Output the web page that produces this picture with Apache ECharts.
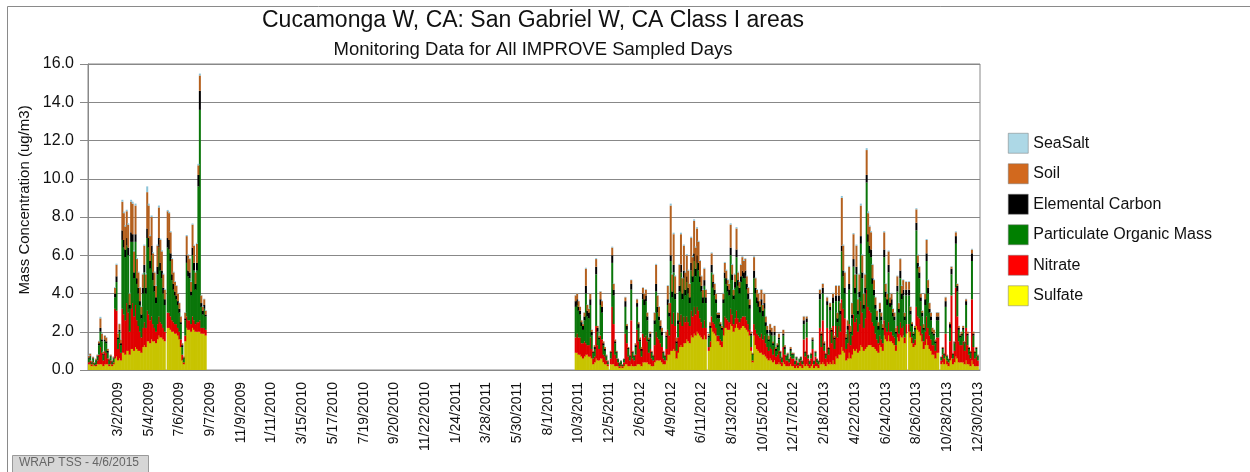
<!DOCTYPE html>
<html>
<head>
<meta charset="utf-8">
<script src="https://cdn.jsdelivr.net/npm/echarts@6/dist/echarts.min.js"></script>
<style>
  html, body { margin: 0; padding: 0; background: #fff; }
  #chart { width: 1250px; height: 472px; }
</style>
</head>
<body>
<div id="chart"></div>
<script>
// IMPROVE samples every 3rd day starting 1/1/2009
var firstDay = new Date(2009, 0, 1);
var nSamples = 610;
var start1 = 0;     // 1/1/2009
var start2 = 333;   // 9/27/2011

var tickLabels = ['3/2/2009', '5/4/2009', '7/6/2009', '9/7/2009', '11/9/2009', '1/11/2010',
    '3/15/2010', '5/17/2010', '7/19/2010', '9/20/2010', '11/22/2010', '1/24/2011', '3/28/2011',
    '5/30/2011', '8/1/2011', '10/3/2011', '12/5/2011', '2/6/2012', '4/9/2012', '6/11/2012',
    '8/13/2012', '10/15/2012', '12/17/2012', '2/18/2013', '4/22/2013', '6/24/2013', '8/26/2013',
    '10/28/2013', '12/30/2013'];

// ---- 2009 (1/1 - 8/27) ----
var sulfate1 = [
    0.3,0.3,0.2,0.3,0.2,0.2,0.3,0.3,0.3,0.3,
    0.2,0.3,0.3,0.3,0.2,0.3,0.2,0.3,0.6,0.7,
    0.5,0.6,0.5,0.9,0.9,0.8,1.0,1.0,0.8,1.1,
    1.1,1.0,1.2,1.1,1.0,1.0,0.9,1.2,1.3,1.2,
    1.5,1.5,1.4,1.6,1.5,1.5,1.4,1.6,1.8,1.7,
    1.7,1.6,1.5,null,2.2,2.2,2.1,2.0,2.0,1.9,
    1.9,1.8,1.6,1.2,0.5,0.3,1.5,2.2,2.1,2.1,
    2.0,2.2,2.1,2.0,2.0,2.0,2.0,1.9,1.9,1.9,
    1.8];
var nitrate1 = [
    0.1,0.2,0.1,0.1,0.05,0.1,0.2,0.5,0.9,0.6,
    0.3,0.7,0.6,0.3,0.1,0.2,0.1,0.1,2.6,2.4,
    0.6,0.8,0.4,2.3,2.0,1.8,2.5,2.0,1.2,2.1,
    2.4,1.8,2.2,1.5,1.3,1.0,0.8,1.0,1.2,1.0,
    1.6,1.4,1.2,1.2,0.9,0.7,0.6,0.8,1.0,0.8,
    0.7,0.6,0.5,null,0.8,0.8,0.7,0.6,0.5,0.5,
    0.5,0.4,0.4,0.4,0.3,0.1,0.3,0.6,0.5,0.5,
    0.4,0.6,0.5,0.4,0.5,0.5,0.6,0.3,0.3,0.3,
    0.3];
var pom1 = [
    0.2,0.2,0.1,0.2,0.1,0.2,0.2,0.5,0.8,0.6,
    0.3,0.5,0.5,0.3,0.2,0.2,0.1,0.2,0.6,1.5,
    0.5,0.6,0.4,3.6,3.5,3.3,3.0,3.0,1.2,3.5,
    3.2,2.0,3.3,1.9,1.7,1.4,1.0,1.8,2.6,1.8,
    3.8,3.5,2.7,3.2,2.3,1.9,1.5,2.6,3.6,2.7,
    2.4,1.8,1.4,null,3.4,3.3,2.9,2.1,1.7,1.5,
    1.3,1.2,1.0,0.8,0.4,0.2,0.8,2.8,2.3,2.2,
    1.5,3.2,2.6,1.8,2.7,7.1,11.0,1.1,0.7,1.0,
    0.7];
var ec1 = [
    0.05,0.05,0.03,0.04,0.02,0.04,0.05,0.1,0.2,0.1,
    0.05,0.1,0.1,0.1,0.05,0.05,0.05,0.05,0.2,0.3,
    0.1,0.1,0.1,0.5,0.4,0.4,0.4,0.4,0.2,0.5,
    0.4,0.3,0.4,0.3,0.3,0.2,0.2,0.3,0.4,0.3,
    0.5,0.5,0.4,0.5,0.4,0.3,0.3,0.4,0.5,0.4,
    0.4,0.3,0.3,null,0.5,0.5,0.4,0.3,0.3,0.2,
    0.2,0.2,0.2,0.1,0.1,0.05,0.1,0.4,0.3,0.3,
    0.2,0.4,0.4,0.3,0.4,0.6,1.0,0.2,0.2,0.2,
    0.1];
var soil1 = [
    0.1,0.1,0.05,0.05,0.03,0.05,0.05,0.1,0.5,0.3,
    0.1,0.2,0.2,0.1,0.05,0.05,0.05,0.05,0.3,0.6,
    0.2,0.3,0.2,1.5,1.4,1.2,1.4,1.2,0.6,1.6,
    1.6,1.1,1.5,1.0,0.8,0.7,0.4,0.7,1.0,0.7,
    1.9,1.7,1.3,1.5,1.0,0.7,0.6,1.1,1.6,1.2,
    1.0,0.7,0.5,null,1.4,1.4,1.1,0.8,0.6,0.5,
    0.5,0.4,0.3,0.3,0.1,0.05,0.3,1.0,0.8,0.7,
    0.5,1.2,0.9,0.6,1.0,0.5,0.8,0.4,0.2,0.3,
    0.2];
var seaSalt1 = [
    0.03,0.03,0.02,0.01,0.01,0.01,0.02,0.03,0.08,0.03,
    0.03,0.03,0.03,0.02,0.01,0.01,0.01,0.01,0.04,0.06,
    0.02,0.03,0.02,0.1,0.08,0.07,0.08,0.07,0.04,0.1,
    0.1,0.06,0.1,0.06,0.05,0.04,0.03,0.05,0.06,0.05,
    0.3,0.1,0.07,0.08,0.06,0.05,0.04,0.06,0.1,0.07,
    0.06,0.05,0.04,null,0.07,0.07,0.06,0.05,0.04,0.04,
    0.04,0.03,0.03,0.03,0.02,0.01,0.03,0.06,0.05,0.05,
    0.04,0.06,0.05,0.04,0.05,0.08,0.1,0.03,0.03,0.03,
    0.03];

// ---- 9/27/2011 - 12/30/2013 ----
var sulfate2 = [
    0.9,0.9,0.8,0.8,0.7,0.6,0.7,0.8,0.8,0.7,
    0.7,0.6,0.3,0.4,0.6,0.5,0.5,0.6,0.6,0.4,
    0.3,0.3,0.2,null,0.3,0.3,0.3,0.2,0.2,0.2,
    0.1,0.2,0.1,0.2,0.3,0.3,0.2,0.2,0.3,0.2,
    0.2,0.2,0.3,0.3,0.3,0.2,0.4,0.4,0.4,0.4,
    0.3,0.3,0.2,0.2,0.4,0.5,0.5,0.5,0.5,0.4,
    0.3,0.3,0.5,0.8,0.8,1.0,1.0,1.1,1.0,0.6,
    0.9,1.2,1.3,1.2,1.4,1.4,1.6,1.5,1.4,1.8,
    1.7,1.9,1.8,2.0,1.9,1.8,1.7,1.6,1.8,1.6,
    null,1.0,1.2,2.2,2.0,1.9,1.8,1.5,1.5,1.3,
    1.2,1.8,2.2,2.2,2.1,2.1,2.4,2.3,2.0,2.2,
    2.4,2.2,2.1,2.2,2.3,2.3,2.2,2.1,2.0,1.8,
    1.0,0.4,1.8,1.3,1.1,1.0,0.9,0.9,0.8,0.8,
    0.7,0.6,0.5,0.6,0.5,0.4,0.5,0.3,0.3,0.4,
    0.3,0.2,0.4,0.3,0.2,0.2,0.2,0.3,0.2,0.2,
    0.1,0.2,0.1,0.2,0.2,0.1,0.3,0.2,0.3,0.2,
    0.1,0.2,0.3,0.1,0.2,0.2,0.1,0.4,0.3,0.4,
    0.3,0.2,0.4,0.3,0.4,0.3,0.5,0.3,0.7,0.6,
    0.8,0.8,1.2,1.0,0.9,0.5,0.6,0.9,0.6,0.8,
    1.1,1.0,1.1,0.9,1.0,1.3,1.2,1.0,1.1,1.2,
    1.3,1.3,1.3,1.2,1.2,1.1,1.0,0.9,1.3,1.2,
    1.0,1.8,1.6,1.5,1.8,1.5,1.5,1.4,1.3,1.0,
    1.7,1.5,1.8,1.7,1.8,1.4,1.9,null,2.0,1.7,
    1.4,1.2,1.3,2.3,2.1,2.0,1.8,1.5,1.1,1.3,
    1.6,1.3,1.1,1.0,0.8,0.8,0.6,0.9,0.9,null,
    0.3,0.4,0.3,0.7,0.3,0.2,0.5,0.6,0.3,0.4,
    0.7,0.6,0.4,0.4,0.4,0.4,0.3,0.5,0.3,0.3,
    0.2,0.5,0.3,0.2,0.2,0.2];
var nitrate2 = [
    0.8,1.0,0.9,0.9,0.7,0.8,0.8,0.6,0.5,0.6,
    1.0,0.5,0.3,0.3,1.7,0.8,0.6,1.2,1.0,0.4,
    0.4,0.2,0.1,null,0.3,3.0,2.1,0.6,0.4,0.2,
    0.1,0.1,0.1,0.2,1.6,1.1,0.5,0.3,2.3,0.4,
    0.3,0.6,1.8,1.2,0.8,0.5,1.5,1.3,1.4,1.1,
    0.6,0.8,0.4,0.3,0.9,1.5,1.2,1.1,0.9,0.8,
    0.3,0.2,0.6,1.3,1.0,2.5,1.4,1.9,1.3,0.4,
    0.8,1.3,1.6,1.1,1.4,1.1,1.2,1.0,0.9,1.3,
    1.1,1.4,1.1,1.3,1.2,0.9,0.8,0.6,0.8,0.6,
    null,0.2,0.3,0.6,0.5,0.5,0.4,0.3,0.3,0.3,
    0.3,0.4,0.6,0.5,0.5,0.4,0.8,0.6,0.4,0.5,
    0.7,0.5,0.4,0.5,0.5,0.5,0.6,0.5,0.4,0.3,
    0.2,0.1,0.6,0.8,0.8,0.8,0.8,1.0,0.8,1.0,
    0.7,0.6,0.5,0.6,0.6,0.4,0.6,0.4,0.5,0.6,
    0.3,0.2,0.8,0.5,0.3,0.3,0.2,0.4,0.4,0.4,
    0.2,0.3,0.15,0.2,0.3,0.2,1.3,0.5,1.4,0.4,
    0.2,0.4,0.8,0.2,0.5,0.2,0.2,1.8,0.9,2.2,
    0.7,0.4,1.8,0.5,1.7,1.1,1.8,0.8,1.6,1.1,
    1.5,1.2,2.5,2.2,1.8,0.6,0.8,1.5,0.7,1.0,
    1.8,1.5,1.6,1.1,1.4,2.3,1.8,1.2,1.6,3.0,
    2.0,1.8,1.7,1.3,1.1,0.8,0.6,0.5,0.5,0.4,
    0.4,0.8,0.6,0.5,0.7,0.5,0.5,0.4,0.4,0.3,
    0.6,0.4,0.7,0.5,0.5,0.3,0.5,null,0.4,0.3,
    0.3,0.2,0.3,1.0,0.7,0.7,0.5,0.4,0.4,0.7,
    1.2,0.9,0.7,0.6,0.5,0.5,0.4,0.8,0.8,null,
    0.2,0.4,0.3,1.2,0.2,0.2,1.0,3.3,0.3,0.6,
    3.6,2.2,1.1,0.9,0.9,1.1,0.7,1.7,1.0,0.5,
    0.4,3.2,0.9,0.4,0.5,0.3];
var pom2 = [
    1.6,1.5,1.4,1.2,0.9,0.7,1.1,2.6,1.5,1.4,
    1.7,0.7,0.3,0.4,2.7,0.7,0.5,1.6,1.4,0.5,
    0.3,0.2,0.1,null,0.3,2.3,1.5,0.6,0.3,0.15,
    0.15,0.15,0.08,0.15,1.4,0.7,0.4,0.2,1.6,0.3,
    0.2,0.4,1.2,0.7,0.4,0.3,1.8,1.7,1.8,1.1,
    0.6,0.6,0.3,0.2,1.1,2.1,1.3,1.0,0.7,0.6,
    0.3,0.2,0.6,1.3,1.0,2.2,1.4,2.1,1.4,0.4,
    0.7,1.6,2.2,1.4,2.0,1.4,1.8,1.5,1.2,2.1,
    1.8,2.4,2.0,2.3,2.1,1.9,1.6,1.3,1.8,1.3,
    null,0.5,0.7,2.3,1.8,1.5,1.3,0.9,0.9,0.7,
    0.6,1.3,2.0,1.8,1.5,1.4,2.8,1.8,1.3,1.6,
    2.8,1.7,1.5,1.9,2.1,2.0,2.0,1.6,1.3,1.1,
    0.6,0.3,2.4,1.9,1.6,1.5,1.3,1.5,1.2,1.4,
    0.9,0.7,0.5,0.7,0.7,0.5,0.7,0.3,0.4,0.6,
    0.3,0.2,0.6,0.3,0.2,0.3,0.15,0.3,0.2,0.2,
    0.15,0.15,0.1,0.15,0.15,0.15,0.8,0.2,0.8,0.15,
    0.15,0.2,0.4,0.15,0.2,0.15,0.15,1.5,0.6,1.4,
    0.3,0.2,1.2,0.3,1.0,0.6,1.2,0.5,1.3,0.8,
    1.3,0.9,2.5,1.7,1.3,0.5,0.7,1.8,0.6,0.9,
    2.5,1.5,2.3,0.9,1.4,3.0,1.8,1.0,1.3,5.6,
    3.4,3.0,2.9,2.0,1.6,1.3,1.0,0.7,1.2,1.0,
    0.7,3.3,1.6,1.4,2.6,1.3,1.4,1.0,0.9,0.6,
    1.8,1.1,2.3,1.5,1.6,0.9,1.5,null,1.5,0.9,
    0.6,0.4,0.5,4.0,2.5,2.1,1.3,0.9,0.6,1.4,
    2.9,1.8,1.2,1.0,0.6,0.5,0.4,0.9,0.9,null,
    0.15,0.3,0.2,1.4,0.2,0.15,0.7,1.1,0.2,0.4,
    2.3,1.3,0.6,0.4,0.5,0.6,0.4,1.2,0.5,0.3,
    0.3,2.0,0.6,0.3,0.4,0.2];
var ec2 = [
    0.3,0.3,0.2,0.2,0.2,0.2,0.2,0.4,0.3,0.3,
    0.3,0.2,0.05,0.1,0.4,0.2,0.1,0.3,0.3,0.1,
    0.1,0.05,0.05,null,0.05,0.4,0.3,0.1,0.05,0.03,
    0.03,0.03,0.01,0.03,0.3,0.2,0.05,0.05,0.3,0.05,
    0.05,0.1,0.2,0.2,0.1,0.1,0.3,0.3,0.3,0.2,
    0.1,0.2,0.05,0.05,0.2,0.4,0.3,0.2,0.2,0.2,
    0.05,0.05,0.1,0.3,0.2,0.3,0.3,0.4,0.3,0.1,
    0.2,0.3,0.4,0.3,0.4,0.3,0.3,0.3,0.3,0.4,
    0.3,0.4,0.4,0.4,0.4,0.3,0.3,0.3,0.3,0.3,
    null,0.1,0.1,0.4,0.3,0.3,0.2,0.2,0.2,0.1,
    0.1,0.2,0.3,0.3,0.3,0.3,0.4,0.3,0.2,0.3,
    0.4,0.3,0.3,0.3,0.3,0.3,0.4,0.3,0.3,0.2,
    0.1,0.05,0.4,0.3,0.3,0.3,0.3,0.3,0.3,0.3,
    0.2,0.2,0.1,0.2,0.2,0.1,0.2,0.1,0.1,0.1,
    0.05,0.05,0.1,0.1,0.05,0.05,0.03,0.1,0.05,0.05,
    0.03,0.03,0.03,0.03,0.03,0.03,0.2,0.05,0.2,0.03,
    0.03,0.05,0.1,0.03,0.05,0.03,0.03,0.3,0.1,0.3,
    0.1,0.05,0.2,0.05,0.2,0.1,0.3,0.1,0.3,0.2,
    0.3,0.2,0.3,0.3,0.3,0.1,0.2,0.3,0.1,0.2,
    0.4,0.3,0.4,0.2,0.3,0.4,0.3,0.2,0.3,0.4,
    0.4,0.4,0.4,0.3,0.3,0.2,0.2,0.2,0.2,0.2,
    0.1,0.4,0.3,0.3,0.4,0.2,0.3,0.2,0.2,0.1,
    0.3,0.2,0.4,0.3,0.3,0.2,0.3,null,0.3,0.2,
    0.1,0.1,0.1,0.4,0.3,0.3,0.2,0.2,0.1,0.3,
    0.4,0.3,0.2,0.2,0.1,0.1,0.1,0.2,0.2,null,
    0.03,0.05,0.05,0.3,0.05,0.03,0.2,0.3,0.05,0.05,
    0.4,0.3,0.1,0.1,0.1,0.1,0.05,0.2,0.1,0.05,
    0.05,0.4,0.1,0.05,0.05,0.05];
var soil2 = [
    0.3,0.3,0.3,0.2,0.1,0.1,0.2,0.9,0.3,0.2,
    0.3,0.1,0.05,0.1,0.4,0.1,0.1,0.4,0.3,0.1,
    0.1,0.05,0.05,null,0.05,0.4,0.3,0.1,0.05,0.02,
    0.02,0.02,0.01,0.02,0.2,0.1,0.05,0.05,0.2,0.05,
    0.05,0.1,0.2,0.1,0.1,0.1,0.3,0.3,0.3,0.2,
    0.1,0.1,0.05,0.05,0.4,1.0,0.6,0.5,0.3,0.2,
    0.05,0.05,0.2,0.7,0.5,2.6,0.9,1.6,0.9,0.2,
    0.4,1.1,1.6,0.8,1.3,0.9,1.1,0.9,0.7,1.3,
    1.0,1.7,1.1,1.4,1.1,0.8,0.5,0.4,0.6,0.4,
    null,0.1,0.2,0.6,0.4,0.3,0.3,0.1,0.1,0.1,
    0.1,0.3,0.5,0.4,0.3,0.3,1.2,0.5,0.3,0.4,
    1.1,0.4,0.3,0.6,0.7,0.6,0.6,0.4,0.3,0.3,
    0.1,0.05,0.7,0.5,0.4,0.4,0.3,0.5,0.3,0.5,
    0.3,0.2,0.2,0.3,0.2,0.1,0.3,0.1,0.1,0.2,
    0.05,0.05,0.2,0.1,0.05,0.05,0.02,0.1,0.05,0.05,
    0.02,0.02,0.02,0.02,0.02,0.02,0.2,0.05,0.1,0.02,
    0.02,0.05,0.1,0.02,0.05,0.02,0.02,0.2,0.1,0.2,
    0.1,0.05,0.2,0.05,0.2,0.1,0.2,0.1,0.5,0.3,
    0.5,0.4,2.5,1.3,0.8,0.2,0.3,0.9,0.3,0.6,
    1.3,0.7,1.1,0.6,0.9,1.6,0.9,0.6,0.7,1.3,
    1.1,1.0,0.9,0.7,0.5,0.4,0.3,0.2,0.3,0.2,
    0.2,0.9,0.4,0.3,0.7,0.3,0.3,0.2,0.2,0.2,
    0.5,0.3,0.6,0.4,0.5,0.2,0.4,null,0.4,0.2,
    0.1,0.1,0.1,0.7,0.4,0.3,0.2,0.1,0.2,0.3,
    0.7,0.4,0.3,0.2,0.2,0.2,0.1,0.2,0.2,null,
    0.02,0.05,0.05,0.2,0.05,0.02,0.1,0.1,0.05,0.05,
    0.2,0.1,0.1,0.1,0.1,0.1,0.05,0.1,0.1,0.05,
    0.05,0.2,0.1,0.05,0.05,0.05];
var seaSalt2 = [
    0.03,0.03,0.03,0.02,0.02,0.02,0.02,0.05,0.03,0.03,
    0.03,0.02,0.01,0.01,0.05,0.02,0.02,0.03,0.03,0.01,
    0.01,0.01,0.01,null,0.01,0.05,0.03,0.02,0.01,0.01,
    0.01,0.01,0.01,0.01,0.03,0.02,0.01,0.01,0.03,0.01,
    0.01,0.01,0.03,0.02,0.02,0.01,0.03,0.03,0.03,0.02,
    0.02,0.02,0.01,0.01,0.03,0.05,0.03,0.03,0.02,0.02,
    0.01,0.01,0.02,0.04,0.03,0.1,0.05,0.08,0.05,0.02,
    0.03,0.05,0.08,0.05,0.06,0.05,0.06,0.05,0.04,0.07,
    0.06,0.08,0.06,0.07,0.06,0.05,0.04,0.04,0.05,0.04,
    null,0.02,0.02,0.05,0.04,0.04,0.03,0.03,0.03,0.02,
    0.02,0.04,0.05,0.05,0.04,0.04,0.07,0.05,0.04,0.05,
    0.07,0.05,0.04,0.05,0.05,0.05,0.05,0.04,0.04,0.03,
    0.02,0.01,0.05,0.04,0.04,0.04,0.03,0.04,0.03,0.04,
    0.03,0.02,0.02,0.02,0.02,0.02,0.02,0.01,0.01,0.02,
    0.01,0.01,0.01,0.01,0.01,0.01,0.01,0.01,0.01,0.01,
    0.01,0.01,0.01,0.01,0.01,0.01,0.03,0.01,0.03,0.01,
    0.01,0.01,0.02,0.01,0.01,0.01,0.01,0.04,0.02,0.04,
    0.02,0.01,0.04,0.01,0.03,0.02,0.04,0.02,0.04,0.03,
    0.04,0.03,0.1,0.06,0.05,0.02,0.03,0.05,0.02,0.03,
    0.06,0.05,0.06,0.03,0.05,0.1,0.05,0.04,0.05,0.1,
    0.1,0.06,0.06,0.05,0.04,0.03,0.03,0.02,0.03,0.03,
    0.02,0.06,0.04,0.04,0.05,0.03,0.04,0.03,0.03,0.02,
    0.04,0.03,0.05,0.04,0.04,0.03,0.04,null,0.04,0.03,
    0.02,0.02,0.02,0.06,0.05,0.04,0.03,0.03,0.02,0.03,
    0.05,0.04,0.03,0.03,0.02,0.02,0.02,0.03,0.03,null,
    0.01,0.01,0.01,0.03,0.01,0.01,0.02,0.04,0.01,0.02,
    0.05,0.03,0.02,0.02,0.02,0.02,0.01,0.03,0.02,0.01,
    0.01,0.04,0.02,0.01,0.01,0.01];

var FONT = '"Liberation Sans", Arial, sans-serif';

var days = [];
for (var i = 0; i < nSamples; i++) {
    var d = new Date(firstDay.getTime());
    d.setDate(d.getDate() + 3 * i);
    days.push((d.getMonth() + 1) + '/' + d.getDate() + '/' + d.getFullYear());
}

// put the two sampled periods on the full day axis, nothing in between
function onAxis(part1, part2) {
    var out = [];
    for (var i = 0; i < nSamples; i++) out.push(null);
    part1.forEach(function (v, i) { out[start1 + i] = v; });
    part2.forEach(function (v, i) { out[start2 + i] = v; });
    return out;
}

function showTick(idx) {
    return tickLabels.indexOf(days[idx]) >= 0;
}

var seriesList = [
    { name: 'Sulfate', color: '#c8c400', legend: '#ffff00', a: sulfate1, b: sulfate2 },
    { name: 'Nitrate', color: '#e00000', legend: '#ff0000', a: nitrate1, b: nitrate2 },
    { name: 'Particulate Organic Mass', color: '#0a760a', legend: '#007f00', a: pom1, b: pom2 },
    { name: 'Elemental Carbon', color: '#000000', legend: '#000000', a: ec1, b: ec2 },
    { name: 'Soil', color: '#b4601e', legend: '#d2691e', a: soil1, b: soil2 },
    { name: 'SeaSalt', color: '#8cc4d8', legend: '#add8e6', a: seaSalt1, b: seaSalt2 }
];

var myChart = echarts.init(document.getElementById('chart'));
var option = {
    animation: false,
    backgroundColor: '#fff',
    title: [
        {
            text: 'Cucamonga W, CA: San Gabriel W, CA Class I areas',
            left: 533, top: 9, textAlign: 'center', padding: 0,
            textStyle: { fontFamily: FONT, fontSize: 23, fontWeight: 'normal', color: '#111' }
        },
        {
            text: 'Monitoring Data for All IMPROVE Sampled Days',
            left: 533, top: 40, textAlign: 'center', padding: 0,
            textStyle: { fontFamily: FONT, fontSize: 18.5, fontWeight: 'normal', color: '#111' }
        }
    ],
    legend: {
        orient: 'vertical',
        left: 1008, top: 133,
        itemWidth: 20, itemHeight: 20, itemGap: 10,
        icon: 'rect',
        padding: 0,
        textStyle: { fontFamily: FONT, fontSize: 16, color: '#111' },
        data: seriesList.slice().reverse().map(function (s) {
            return { name: s.name, itemStyle: { color: s.legend, borderColor: '#777', borderWidth: 0.5 } };
        })
    },
    grid: {
        left: 88, right: 270, top: 64, bottom: 102,
        show: true, borderColor: '#888', borderWidth: 1, backgroundColor: '#fff'
    },
    xAxis: {
        type: 'category',
        data: days,
        boundaryGap: true,
        axisLine: { lineStyle: { color: '#888' } },
        axisTick: { alignWithLabel: true, interval: showTick, length: 6, lineStyle: { color: '#888' } },
        axisLabel: {
            interval: showTick, rotate: 90, margin: 12,
            fontFamily: FONT, fontSize: 14, color: '#111'
        },
        splitLine: { show: false }
    },
    yAxis: {
        type: 'value',
        min: 0, max: 16, interval: 2,
        name: 'Mass Concentration (ug/m3)',
        nameLocation: 'middle', nameGap: 52,
        nameTextStyle: { fontFamily: FONT, fontSize: 15, color: '#111', padding: [0, 0, 0, 34] },
        axisLine: { show: true, lineStyle: { color: '#888' } },
        axisTick: { show: true, length: 8, lineStyle: { color: '#888' } },
        axisLabel: {
            margin: 14, fontFamily: FONT, fontSize: 16, color: '#111',
            formatter: function (v) { return v.toFixed(1); }
        },
        splitLine: { lineStyle: { color: '#888', width: 1 } }
    },
    graphic: [
        {
            type: 'rect', silent: true, z: -10,
            shape: { x: 7.5, y: 6.5, width: 1400, height: 600 },
            style: { fill: 'transparent', stroke: '#8a8a8a', lineWidth: 1 }
        },
        {
            type: 'rect', silent: true,
            shape: { x: 12.5, y: 455.5, width: 136, height: 24 },
            style: { fill: '#d6d6d6', stroke: '#9a9a9a', lineWidth: 1 }
        },
        {
            type: 'text', silent: true, x: 19, y: 457,
            style: { text: 'WRAP TSS - 4/6/2015', fill: '#666', font: '12px ' + FONT }
        }
    ],
    series: seriesList.map(function (s) {
        return {
            name: s.name,
            type: 'bar',
            stack: 'mass',
            barWidth: 2,
            barGap: '-100%',
            itemStyle: { color: s.color },
            emphasis: { disabled: true },
            data: onAxis(s.a, s.b)
        };
    })
};
myChart.setOption(option);
</script>
</body>
</html>
